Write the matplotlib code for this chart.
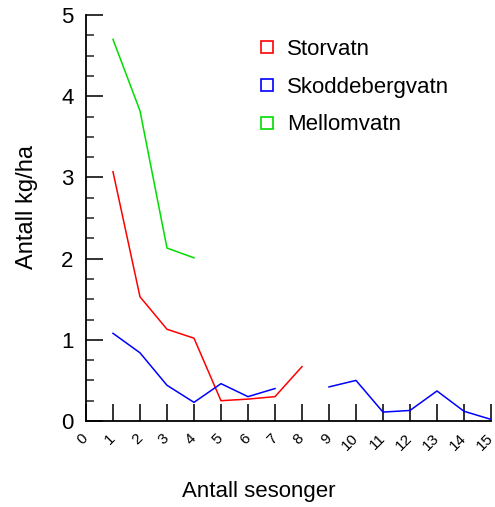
import numpy as np
import matplotlib.pyplot as plt
from matplotlib.lines import Line2D

plt.rcParams['font.family'] = ['Liberation Sans', 'DejaVu Sans']

# Data
sesong = np.arange(1, 16)
storvatn = [3.07, 1.53, 1.13, 1.02, 0.25, 0.27, 0.30, 0.67]
skoddebergvatn = [1.08, 0.84, 0.44, 0.23, 0.46, 0.30, 0.40, np.nan,
                  0.42, 0.50, 0.11, 0.13, 0.37, 0.12, 0.02]
mellomvatn = [4.70, 3.82, 2.13, 2.01]
serier = ['Storvatn', 'Skoddebergvatn', 'Mellomvatn']
farger = ['#ff0000', '#0000ff', '#00dd00']
xticks = list(range(0, 16))
yticks = list(range(0, 6))

fig = plt.figure(figsize=(4.95, 5.07), dpi=100)
ax = fig.add_axes([0.1737, 0.1696, 0.8182, 0.8008])

for verdier, farge in zip([storvatn, skoddebergvatn, mellomvatn], farger):
    ax.plot(sesong[:len(verdier)], verdier, color=farge, lw=1.1)

ax.set_xlim(0, 15)
ax.set_ylim(0, 5)
ax.spines['top'].set_visible(False)
ax.spines['right'].set_visible(False)
for s in ['left', 'bottom']:
    ax.spines[s].set_linewidth(1.3)

ax.set_xticks(xticks)
ax.set_xticklabels([str(t) for t in xticks], rotation=45, fontsize=11,
                   ha='right', va='center', rotation_mode='anchor')

ax.set_yticks(yticks)
ax.set_yticklabels([str(t) for t in yticks], fontsize=16)
ax.set_yticks(np.arange(0, 5.01, 0.25), minor=True)
ax.tick_params(axis='both', which='major', direction='in', length=12,
               width=1.3, color='#222222')
ax.tick_params(axis='y', which='minor', direction='in', length=6,
               width=1.1, color='#222222')
ax.tick_params(axis='x', pad=11)
ax.tick_params(axis='y', pad=9)

ax.set_xlabel('Antall sesonger', fontsize=16)
ax.xaxis.set_label_coords(0.427, -0.148)
ax.set_ylabel('Antall kg/ha', fontsize=17)
ax.yaxis.set_label_coords(-0.118, 0.527)

handles = [Line2D([], [], ls='none', marker='s', markersize=9,
                  markerfacecolor='none', markeredgecolor=f, markeredgewidth=1.2)
           for f in farger]
ax.legend(handles, serier, loc='upper left', bbox_to_anchor=(0.37, 0.99),
          frameon=False, fontsize=16, handletextpad=0.4, labelspacing=0.75,
          handlelength=1.0)

fig.savefig('out.png', dpi=100)
